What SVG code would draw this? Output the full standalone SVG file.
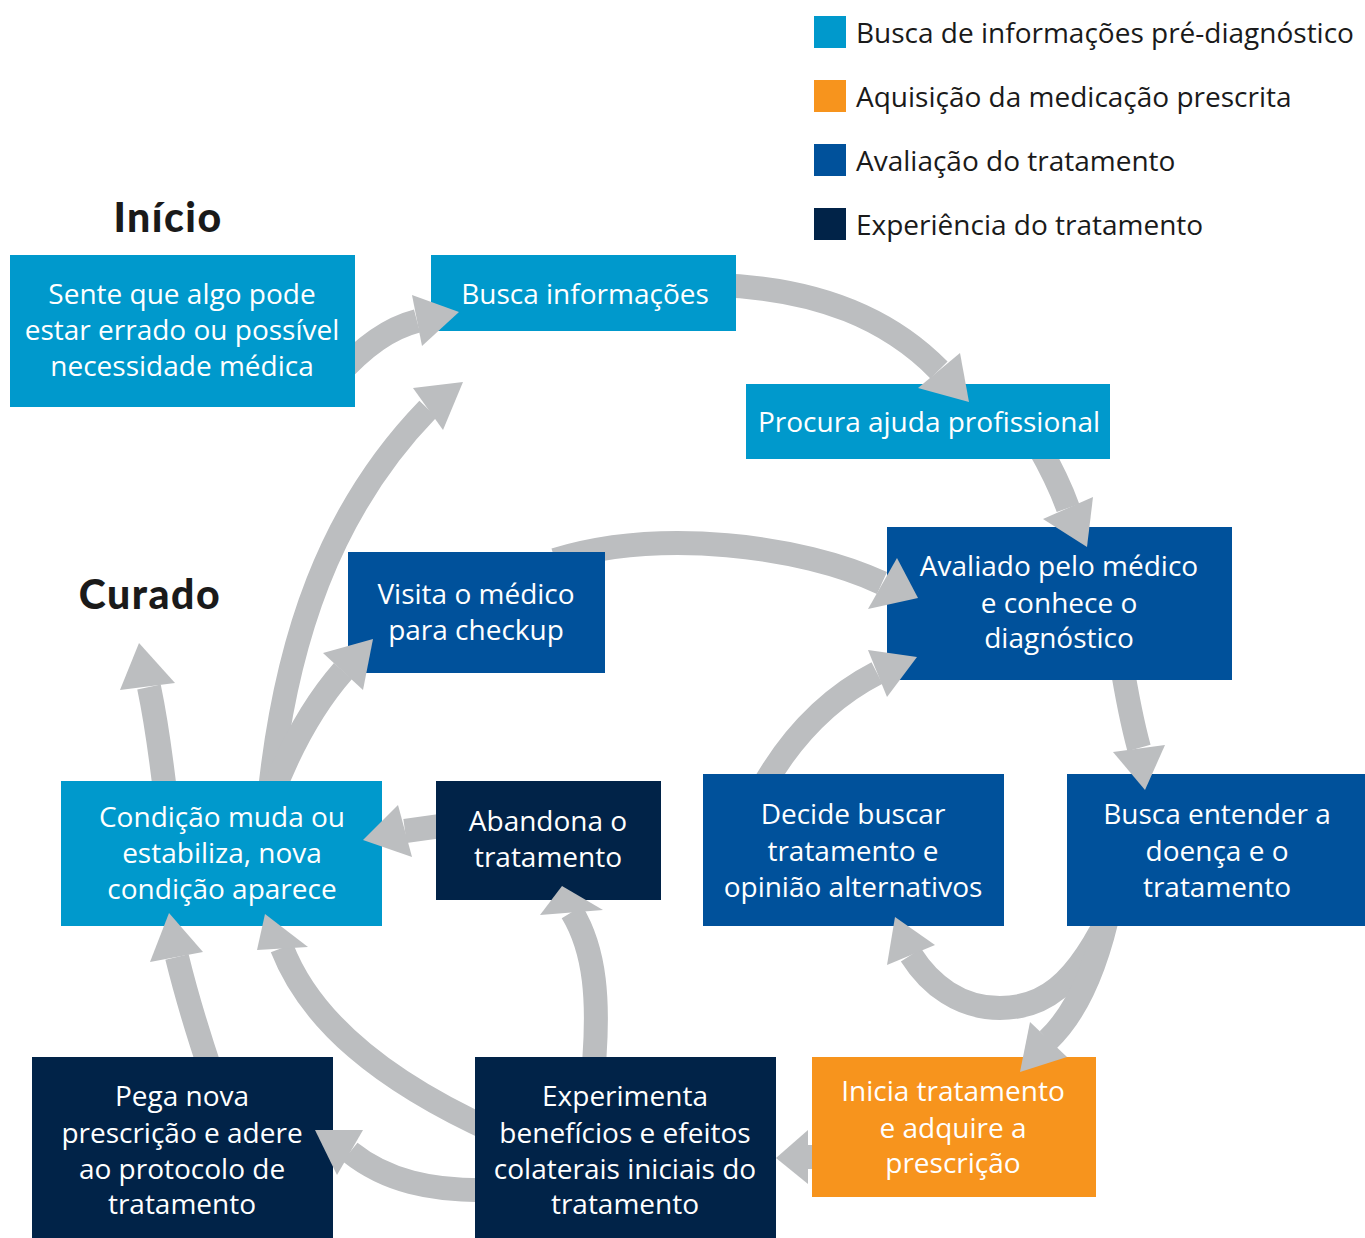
<svg xmlns="http://www.w3.org/2000/svg" width="1365" height="1238" viewBox="0 0 1365 1238">
<style>
.shaft{fill:none;stroke:#bcbec0;stroke-width:24;clip-path:url(#outside)}
.head{fill:#bcbec0}
.lb{fill:#0099cc}
.mb{fill:#00519b}
.nv{fill:#012348}
.or{fill:#f7941d}
.t{font-family:"Open Sans","Noto Sans",sans-serif;font-size:28px;fill:#ffffff;text-anchor:middle}
.lg{font-family:"Open Sans","Noto Sans",sans-serif;font-size:28px;fill:#1a1a1a}
.big{font-family:Lato,"Open Sans",sans-serif;font-weight:900;font-size:41px;letter-spacing:1.5px;fill:#1a1a1a;text-anchor:middle}
</style>
<defs>
<clipPath id="outside">
<path clip-rule="evenodd" d="M0,0H1365V1238H0Z M10,255h345v152h-345Z M431,255h305v76h-305Z M746,384h364v75h-364Z M887,527h345v153h-345Z M348,552h257v121h-257Z M1067,774h298v152h-298Z M703,774h301v152h-301Z M436,781h225v119h-225Z M61,781h321v145h-321Z M812,1057h284v140h-284Z M475,1057h301v181h-301Z M32,1057h301v181h-301Z"/>
</clipPath>
</defs>
<rect width="1365" height="1238" fill="#ffffff"/>
<g id="legend">
<rect class="lb" x="814" y="16" width="32" height="32"/>
<text class="lg" x="856" y="43">Busca de informações pré-diagnóstico</text>
<rect class="or" x="814" y="80" width="32" height="32"/>
<text class="lg" x="856" y="107">Aquisição da medicação prescrita</text>
<rect class="mb" x="814" y="144" width="32" height="32"/>
<text class="lg" x="856" y="171">Avaliação do tratamento</text>
<rect class="nv" x="814" y="208" width="32" height="32"/>
<text class="lg" x="856" y="235">Experiência do tratamento</text>
</g>
<g id="label-inicio"><text class="big" x="168" y="232">Início</text></g>
<g id="label-curado"><text class="big" x="150" y="609">Curado</text></g>
<g id="n1"><rect class="lb" x="10" y="255" width="345" height="152"/>
<text class="t" x="182" y="304">Sente que algo pode</text><text class="t" x="182" y="340">estar errado ou possível</text><text class="t" x="182" y="376">necessidade médica</text></g>
<g id="n2"><rect class="lb" x="431" y="255" width="305" height="76"/>
<text class="t" x="585" y="304">Busca informações</text></g>
<g id="n3"><rect class="lb" x="746" y="384" width="364" height="75"/>
<text class="t" x="929" y="432">Procura ajuda profissional</text></g>
<g id="n4"><rect class="mb" x="887" y="527" width="345" height="153"/>
<text class="t" x="1059" y="576">Avaliado pelo médico</text><text class="t" x="1059" y="613">e conhece o</text><text class="t" x="1059" y="648">diagnóstico</text></g>
<g id="n5"><rect class="mb" x="348" y="552" width="257" height="121"/>
<text class="t" x="476" y="604">Visita o médico</text><text class="t" x="476" y="640">para checkup</text></g>
<g id="n6"><rect class="mb" x="1067" y="774" width="298" height="152"/>
<text class="t" x="1217" y="824">Busca entender a</text><text class="t" x="1217" y="861">doença e o</text><text class="t" x="1217" y="897">tratamento</text></g>
<g id="n7"><rect class="mb" x="703" y="774" width="301" height="152"/>
<text class="t" x="853" y="824">Decide buscar</text><text class="t" x="853" y="861">tratamento e</text><text class="t" x="853" y="897">opinião alternativos</text></g>
<g id="n8"><rect class="nv" x="436" y="781" width="225" height="119"/>
<text class="t" x="548" y="831">Abandona o</text><text class="t" x="548" y="867">tratamento</text></g>
<g id="n9"><rect class="lb" x="61" y="781" width="321" height="145"/>
<text class="t" x="222" y="827">Condição muda ou</text><text class="t" x="222" y="863">estabiliza, nova</text><text class="t" x="222" y="899">condição aparece</text></g>
<g id="n10"><rect class="or" x="812" y="1057" width="284" height="140"/>
<text class="t" x="953" y="1101">Inicia tratamento</text><text class="t" x="953" y="1138">e adquire a</text><text class="t" x="953" y="1173">prescrição</text></g>
<g id="n11"><rect class="nv" x="475" y="1057" width="301" height="181"/>
<text class="t" x="625" y="1106">Experimenta</text><text class="t" x="625" y="1143">benefícios e efeitos</text><text class="t" x="625" y="1179">colaterais iniciais do</text><text class="t" x="625" y="1214">tratamento</text></g>
<g id="n12"><rect class="nv" x="32" y="1057" width="301" height="181"/>
<text class="t" x="182" y="1106">Pega nova</text><text class="t" x="182" y="1143">prescrição e adere</text><text class="t" x="182" y="1179">ao protocolo de</text><text class="t" x="182" y="1214">tratamento</text></g>
<g id="connectors">
<path class="shaft" d="M335,378 C365,345 390,328 417,321"/>
<polygon class="head" points="412,295 459,312 422,346"/>
<path class="shaft" d="M715,285 C820,288 890,320 939,370"/>
<polygon class="head" points="960,353 969,402 918,388"/>
<path class="shaft" d="M1038,445 Q1058,480 1068,508"/>
<polygon class="head" points="1093,497 1087,547 1043,519"/>
<path class="shaft" d="M555,560 C660,528 800,545 882,583"/>
<polygon class="head" points="897,558 918,598 868,609"/>
<path class="shaft" d="M269,800 C285,640 330,510 428,409"/>
<polygon class="head" points="413,388 463,382 443,430"/>
<path class="shaft" d="M270,800 Q300,720 343,671"/>
<polygon class="head" points="323,653 373,639 363,690"/>
<path class="shaft" d="M166,800 Q158,730 149,687"/>
<polygon class="head" points="120,690 139,643 175,683"/>
<path class="shaft" d="M760,792 Q805,710 877,673"/>
<polygon class="head" points="868,650 917,657 887,697"/>
<path class="shaft" d="M1121,660 Q1130,715 1139,748"/>
<polygon class="head" points="1113,752 1145,790 1165,745"/>
<path class="shaft" d="M1114,905 C1075,990 1040,1008 1000,1008 C960,1008 930,985 911,955"/>
<polygon class="head" points="935,945 895,917 887,965"/>
<path class="shaft" d="M1110,905 Q1090,1000 1048,1040"/>
<polygon class="head" points="1030,1022 1020,1072 1067,1057"/>
<path class="shaft" d="M455,824 L405,831"/>
<polygon class="head" points="398,805 363,840 412,857"/>
<path class="shaft" d="M593,1075 C600,1000 595,950 572,912"/>
<polygon class="head" points="603,910 562,886 540,915"/>
<path class="shaft" d="M212,1075 Q190,1010 177,957"/>
<polygon class="head" points="203,952 169,913 150,962"/>
<path class="shaft" d="M495,1132 C380,1080 310,1020 282,948"/>
<polygon class="head" points="308,947 265,914 257,950"/>
<path class="shaft" d="M495,1190 C430,1192 385,1180 350,1152"/>
<polygon class="head" points="363,1130 315,1130 337,1175"/>
<path class="shaft" d="M830,1157 L805,1157"/>
<polygon class="head" points="808,1130 776,1158 808,1184"/>
</g>
</svg>
